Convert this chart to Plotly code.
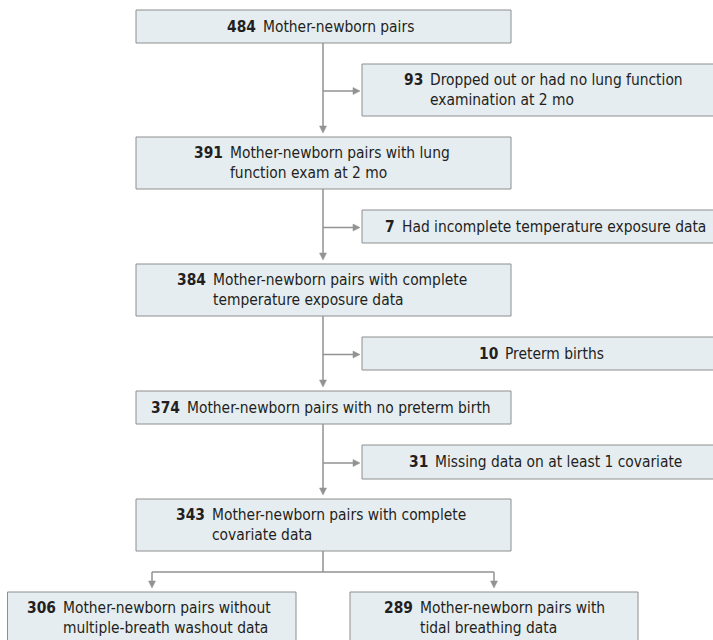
import plotly.graph_objects as go

# ---- data ----
counts = [484, 93, 391, 7, 384, 10, 374, 31, 343, 306, 289]
labels = [
    ["Mother-newborn pairs"],
    ["Dropped out or had no lung function", "examination at 2 mo"],
    ["Mother-newborn pairs with lung", "function exam at 2 mo"],
    ["Had incomplete temperature exposure data"],
    ["Mother-newborn pairs with complete", "temperature exposure data"],
    ["Preterm births"],
    ["Mother-newborn pairs with no preterm birth"],
    ["Missing data on at least 1 covariate"],
    ["Mother-newborn pairs with complete", "covariate data"],
    ["Mother-newborn pairs without", "multiple-breath washout data"],
    ["Mother-newborn pairs with", "tidal breathing data"],
]

# ---- layout geometry (window pixels) : x0, x1, y0, y1, text start x ----
geom = [
    (136, 511, 10, 43, 263),
    (362, 716, 64, 116, 430),
    (136, 511, 137, 189, 230),
    (362, 716, 210, 243, 402),
    (136, 511, 264, 316, 213),
    (362, 716, 337, 370, 505),
    (136, 511, 391, 424, 187),
    (362, 716, 445, 479, 435),
    (136, 511, 499, 551, 212),
    (7.5, 296, 592, 646, 63),
    (350, 638, 592, 646, 420),
]

W, H = 713, 640
FILL = "#e6edf1"
BORDER = "#8e8e8e"
LINE = "#929292"
TEXT = "#231f20"
FONT = "DejaVu Sans Condensed, Liberation Sans, Arial, sans-serif"
FS = 15.4

fig = go.Figure()
shapes = []
annotations = []

for (x0, x1, y0, y1, tx), n, lab in zip(geom, counts, labels):
    shapes.append(dict(type="rect", xref="x", yref="y", x0=x0, x1=x1, y0=y0, y1=y1,
                       fillcolor=FILL, line=dict(color=BORDER, width=1), layer="below"))
    yc = (y0 + y1) / 2
    if y1 > H:
        yc = (y0 + y0 + 52) / 2
    two = len(lab) > 1
    annotations.append(dict(x=tx - 2, y=yc, xref="x", yref="y", xanchor="left", yanchor="middle",
                            align="left", showarrow=False, text="<br>".join(lab),
                            font=dict(family=FONT, size=FS, color=TEXT)))
    ntext = "<b>%d</b>" % n + ("<br>\u00a0" if two else "")
    annotations.append(dict(x=tx - 5, y=yc, xref="x", yref="y", xanchor="right", yanchor="middle",
                            align="right", showarrow=False, text=ntext,
                            font=dict(family=FONT, size=FS, color=TEXT)))

def vline(x, ya, yb):
    shapes.append(dict(type="line", xref="x", yref="y", x0=x, x1=x, y0=ya, y1=yb,
                       line=dict(color=LINE, width=1.5)))

def hline(y, xa, xb):
    shapes.append(dict(type="line", xref="x", yref="y", x0=xa, x1=xb, y0=y, y1=y,
                       line=dict(color=LINE, width=1.5)))

def down_head(x, tip):
    shapes.append(dict(type="path", xref="x", yref="y",
                       path=f"M {x-3.5},{tip-7} L {x+3.5},{tip-7} L {x},{tip} Z",
                       fillcolor=LINE, line=dict(color=LINE, width=0.5)))

def right_head(y, tip):
    shapes.append(dict(type="path", xref="x", yref="y",
                       path=f"M {tip-7},{y-3.5} L {tip-7},{y+3.5} L {tip},{y} Z",
                       fillcolor=LINE, line=dict(color=LINE, width=0.5)))

main = [geom[i] for i in (0, 2, 4, 6, 8)]
side = [geom[i] for i in (1, 3, 5, 7)]
cx = 323
for a, b, s in zip(main[:-1], main[1:], side):
    tip = b[2] - 4
    vline(cx, a[3], tip - 6)
    down_head(cx, tip)
    ay = (s[2] + s[3]) / 2 + 1
    htip = s[0] - 2
    hline(ay, cx, htip - 6)
    right_head(ay, htip)

# split to the two final boxes
last = main[-1]
ysplit = 572
vline(cx, last[3], ysplit)
lb, rb = geom[9], geom[10]
lx = 152
rx = (rb[0] + rb[1]) / 2
hline(ysplit, lx, rx)
for x, b in ((lx, lb), (rx, rb)):
    tip = b[2] - 4
    vline(x, ysplit, tip - 6)
    down_head(x, tip)

fig.update_layout(
    width=W, height=H,
    margin=dict(l=0, r=0, t=0, b=0),
    paper_bgcolor="white", plot_bgcolor="white",
    xaxis=dict(range=[0, W], visible=False, fixedrange=True),
    yaxis=dict(range=[H, 0], visible=False, fixedrange=True),
    shapes=shapes, annotations=annotations, showlegend=False,
)
fig.write_html(
    "out.html",
    config={"displayModeBar": False, "staticPlot": True},
    post_script="document.body.style.margin='0';document.body.style.overflow='hidden';",
)
